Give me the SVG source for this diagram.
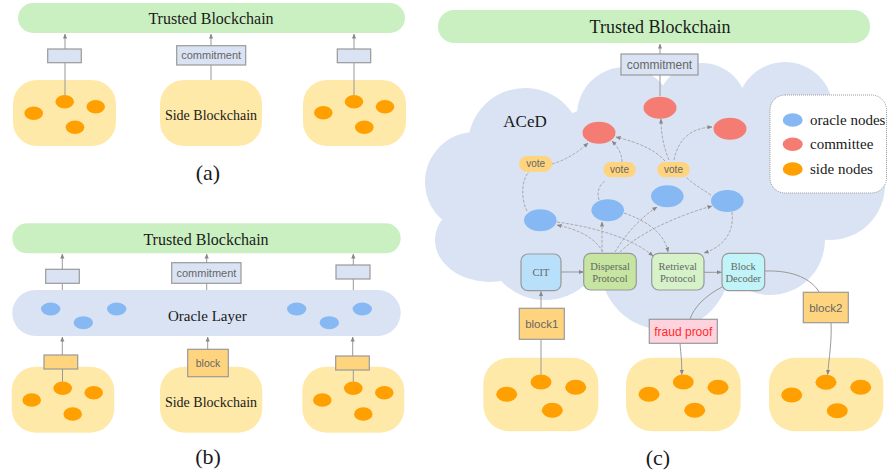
<svg xmlns="http://www.w3.org/2000/svg" width="888" height="476" viewBox="0 0 888 476">
<defs>
<marker id="ah" viewBox="0 0 6 6" refX="5.5" refY="3" markerWidth="5" markerHeight="5" orient="auto" markerUnits="userSpaceOnUse">
<path d="M0,0.5 L6,3 L0,5.5 z" fill="#888"/>
</marker>
<style>
.bar{fill:#caf0c2}
.blob{fill:#ffe9a8}
.on{fill:#ff9f00}
.bn{fill:#86b8f4}
.rn{fill:#f57c73}
.lay{fill:#dae3f3}
.cm{fill:#dae3f3;stroke:#999;stroke-width:1.2}
.bk{fill:#ffd47f;stroke:#999;stroke-width:1.2}
.vote{fill:#ffd47f}
.serif{font-family:"Liberation Serif","Times New Roman",serif;fill:#1a1a1a}
.sans{font-family:"Liberation Sans",Arial,sans-serif;fill:#666}
.pt{font-family:"Liberation Serif","Times New Roman",serif;fill:#666;font-size:10.5px;text-anchor:middle}
.ln{fill:none;stroke:#999;stroke-width:1}
.arr{fill:none;stroke:#999;stroke-width:1;marker-end:url(#ah)}
.da{fill:none;stroke:#aaa;stroke-width:1;stroke-dasharray:3 1.5;marker-end:url(#ah)}
.dl{fill:none;stroke:#aaa;stroke-width:1;stroke-dasharray:3 1.5}
.cloud{fill:#dae3f3}
</style>
</defs>
<rect width="888" height="476" fill="#ffffff"/>

<!-- ===== Panel (a) ===== -->
<g id="a-trusted">
<rect class="bar" x="18" y="3" width="387" height="30" rx="15"/>
<text class="serif" x="211" y="24" font-size="16" text-anchor="middle">Trusted Blockchain</text>
</g>
<g id="a-side1">
<rect class="blob" x="13" y="80" width="103" height="66" rx="24"/>
<ellipse class="on" cx="33.7" cy="113.3" rx="9.3" ry="6.7"/>
<ellipse class="on" cx="64.7" cy="101.7" rx="9.3" ry="6.7"/>
<ellipse class="on" cx="95.7" cy="106.7" rx="9.3" ry="6.7"/>
<ellipse class="on" cx="75" cy="127.3" rx="9.3" ry="6.7"/>
</g>
<g id="a-side2">
<rect class="blob" x="160" y="80" width="102" height="66" rx="24"/>
<text class="serif" x="211" y="120.3" font-size="14" text-anchor="middle">Side Blockchain</text>
</g>
<g id="a-side3">
<rect class="blob" x="303" y="80" width="103" height="66" rx="24"/>
<ellipse class="on" cx="323.3" cy="112.7" rx="9.3" ry="6.7"/>
<ellipse class="on" cx="354" cy="101.7" rx="9.3" ry="6.7"/>
<ellipse class="on" cx="385" cy="106.7" rx="9.3" ry="6.7"/>
<ellipse class="on" cx="364.3" cy="127.3" rx="9.3" ry="6.7"/>
</g>
<g id="a-connectors">
<path class="ln" d="M65,95 V63"/>
<path class="arr" d="M65,49 V34"/>
<path class="ln" d="M211,80 V65"/>
<path class="arr" d="M211,46 V34"/>
<path class="ln" d="M354,95 V63"/>
<path class="arr" d="M354,49 V34"/>
</g>
<g id="a-box1"><rect class="cm" x="47.7" y="49" width="33.6" height="13.7"/></g>
<g id="a-commit">
<rect class="cm" x="176.7" y="45.7" width="69" height="19.3"/>
<text class="sans" x="211.2" y="59.4" font-size="11" text-anchor="middle">commitment</text>
</g>
<g id="a-box3"><rect class="cm" x="337.3" y="49" width="33.4" height="13.7"/></g>
<text class="serif" x="208" y="179.5" font-size="22" text-anchor="middle">(a)</text>

<!-- ===== Panel (b) ===== -->
<g id="b-trusted">
<rect class="bar" x="12.3" y="223.3" width="388.4" height="30" rx="15"/>
<text class="serif" x="206" y="244.5" font-size="16" text-anchor="middle">Trusted Blockchain</text>
</g>
<g id="b-oracle">
<rect class="lay" x="12.3" y="290" width="388.4" height="46" rx="23"/>
<ellipse class="bn" cx="50.7" cy="309" rx="9.7" ry="6.5"/>
<ellipse class="bn" cx="83.3" cy="322.7" rx="9.7" ry="6.5"/>
<ellipse class="bn" cx="116.7" cy="309" rx="9.7" ry="6.5"/>
<ellipse class="bn" cx="296.7" cy="309" rx="9.7" ry="6.5"/>
<ellipse class="bn" cx="329.3" cy="322.7" rx="9.7" ry="6.5"/>
<ellipse class="bn" cx="362.3" cy="309" rx="9.7" ry="6.5"/>
<text class="serif" x="207.3" y="320.5" font-size="15" text-anchor="middle">Oracle Layer</text>
</g>
<g id="b-side1">
<rect class="blob" x="11.7" y="366.7" width="102.6" height="66" rx="24"/>
<ellipse class="on" cx="31.7" cy="400" rx="9.3" ry="6.7"/>
<ellipse class="on" cx="62.7" cy="388.3" rx="9.3" ry="6.7"/>
<ellipse class="on" cx="93.7" cy="392.7" rx="9.3" ry="6.7"/>
<ellipse class="on" cx="72.7" cy="414" rx="9.3" ry="6.7"/>
</g>
<g id="b-side2">
<rect class="blob" x="160" y="366.7" width="102.3" height="66" rx="24"/>
<text class="serif" x="211" y="406.5" font-size="14" text-anchor="middle">Side Blockchain</text>
</g>
<g id="b-side3">
<rect class="blob" x="302.3" y="366.7" width="102" height="66" rx="24"/>
<ellipse class="on" cx="322.3" cy="400" rx="9.3" ry="6.7"/>
<ellipse class="on" cx="353.3" cy="388.3" rx="9.3" ry="6.7"/>
<ellipse class="on" cx="384.3" cy="392.7" rx="9.3" ry="6.7"/>
<ellipse class="on" cx="363.3" cy="414" rx="9.3" ry="6.7"/>
</g>
<g id="b-connectors">
<path class="ln" d="M62.3,290 V283"/>
<path class="arr" d="M62.3,269 V254"/>
<path class="ln" d="M206.7,290 V283"/>
<path class="arr" d="M206.7,262.7 V254"/>
<path class="ln" d="M353.3,290 V279"/>
<path class="arr" d="M353.3,265 V254"/>
<path class="ln" d="M62.5,381.6 V369"/>
<path class="arr" d="M62.3,355 V337"/>
<path class="arr" d="M207.7,349.3 V337"/>
<path class="ln" d="M353.3,381.6 V370"/>
<path class="arr" d="M352.7,356 V337"/>
</g>
<g id="b-box1"><rect class="cm" x="45.7" y="269.3" width="33.6" height="14"/></g>
<g id="b-commit">
<rect class="cm" x="171.7" y="262.7" width="69.3" height="20.6"/>
<text class="sans" x="206.4" y="276.8" font-size="11" text-anchor="middle">commitment</text>
</g>
<g id="b-box3"><rect class="cm" x="336" y="265" width="34" height="14"/></g>
<g id="b-blk1"><rect class="bk" x="44" y="355" width="33.7" height="14"/></g>
<g id="b-block">
<rect class="bk" x="187.7" y="349.3" width="40.6" height="27.4"/>
<text class="sans" x="208" y="366.6" font-size="10.5" text-anchor="middle">block</text>
</g>
<g id="b-blk3"><rect class="bk" x="335.7" y="356" width="33.6" height="14"/></g>
<text class="serif" x="208" y="464" font-size="22" text-anchor="middle">(b)</text>

<!-- ===== Panel (c) ===== -->
<g id="c-cloud">
<circle class="cloud" cx="625" cy="115" r="48"/>
<circle class="cloud" cx="702" cy="108" r="45"/>
<circle class="cloud" cx="785" cy="110" r="48"/>
<circle class="cloud" cx="830" cy="185" r="55"/>
<circle class="cloud" cx="770" cy="240" r="55"/>
<circle class="cloud" cx="665" cy="265" r="65"/>
<circle class="cloud" cx="545" cy="240" r="60"/>
<circle class="cloud" cx="475" cy="182" r="50"/>
<ellipse class="cloud" cx="490" cy="240" rx="55" ry="42"/>
<circle class="cloud" cx="525" cy="145" r="57"/>
<ellipse class="cloud" cx="660" cy="190" rx="170" ry="90"/>
<text class="serif" x="525" y="126.6" font-size="17" text-anchor="middle">ACeD</text>
</g>
<g id="c-trusted">
<rect class="bar" x="438" y="10" width="432" height="33" rx="16"/>
<text class="serif" x="660" y="33" font-size="18" text-anchor="middle">Trusted Blockchain</text>
</g>
<g id="c-legend">
<rect x="770" y="95" width="116.5" height="98" rx="15" fill="#ffffff" stroke="#999" stroke-width="1" stroke-dasharray="1 1"/>
<ellipse class="bn" cx="792.7" cy="120" rx="10" ry="6.7"/>
<ellipse class="rn" cx="792.7" cy="144.3" rx="10" ry="6.7"/>
<ellipse class="on" cx="792.7" cy="169" rx="10" ry="6.7"/>
<text class="serif" x="810" y="125" font-size="15">oracle nodes</text>
<text class="serif" x="810" y="149.3" font-size="15">committee</text>
<text class="serif" x="810" y="174" font-size="15">side nodes</text>
</g>
<g id="c-side1">
<rect class="blob" x="483.3" y="357.7" width="115" height="73.6" rx="26"/>
<ellipse class="on" cx="506.7" cy="394.3" rx="10.5" ry="7.5"/>
<ellipse class="on" cx="541" cy="382" rx="10.5" ry="7.5"/>
<ellipse class="on" cx="575.7" cy="387.3" rx="10.5" ry="7.5"/>
<ellipse class="on" cx="552.3" cy="410.3" rx="10.5" ry="7.5"/>
</g>
<g id="c-side2">
<rect class="blob" x="626" y="357.7" width="114.7" height="73.6" rx="26"/>
<ellipse class="on" cx="649" cy="394.3" rx="10.5" ry="7.5"/>
<ellipse class="on" cx="683.3" cy="382" rx="10.5" ry="7.5"/>
<ellipse class="on" cx="718" cy="387.3" rx="10.5" ry="7.5"/>
<ellipse class="on" cx="694.7" cy="410.3" rx="10.5" ry="7.5"/>
</g>
<g id="c-side3">
<rect class="blob" x="769" y="357.7" width="114.3" height="73.6" rx="26"/>
<ellipse class="on" cx="791.7" cy="395" rx="10.5" ry="7.5"/>
<ellipse class="on" cx="826" cy="382.3" rx="10.5" ry="7.5"/>
<ellipse class="on" cx="860.7" cy="387.3" rx="10.5" ry="7.5"/>
<ellipse class="on" cx="837.3" cy="410.7" rx="10.5" ry="7.5"/>
</g>
<g id="c-connectors">
<path class="ln" d="M660,96 V75" stroke-width="1.5"/>
<path class="arr" d="M660,54 V44"/>
<path class="da" d="M552,164 Q572,158 588,143"/>
<path class="dl" d="M527,211 C521,200 521,180 529,172"/>
<path class="dl" d="M599,200 C597,193 598,186 605,181"/>
<path class="da" d="M622,162 C622,154 618,147 612,141"/>
<path class="dl" d="M711,195 C700,188 692,183 686,177"/>
<path class="da" d="M665,161 C655,150 640,143 616,137"/>
<path class="da" d="M669,160 C664,148 661,135 661,119"/>
<path class="da" d="M674,160 C678,140 690,128 712,127"/>
<path class="da" d="M603,252 C595,238 580,230 557,225"/>
<path class="da" d="M602,252 L602,222"/>
<path class="da" d="M615,252 C625,235 640,218 657,207"/>
<path class="da" d="M620,252 C640,232 680,215 712,206"/>
<path class="da" d="M557,222 C600,228 635,240 653,256"/>
<path class="da" d="M624,213 C650,222 665,235 668,252"/>
<path class="da" d="M732,212 C735,235 720,248 704,253"/>
<path class="arr" d="M561,272 H583.5"/>
<path class="arr" d="M704,272.3 H721.5"/>
<path class="arr" d="M541,308 V291.5"/>
<path class="ln" d="M541,374.5 V339.5"/>
<path class="ln" d="M722,287 C705,296 694,307 690,319.3"/>
<path class="arr" d="M680,343.3 C681,355 682,362 681.7,374.5"/>
<path class="ln" d="M764.7,271 C795,270 812,280 819.3,292.3"/>
<path class="arr" d="M831,322.7 C832,340 829,358 827.7,374.5"/>
</g>
<g id="c-commit">
<rect class="cm" x="621" y="54" width="77" height="21"/>
<text class="sans" x="659.5" y="68.5" font-size="12" text-anchor="middle">commitment</text>
</g>
<g id="c-committee">
<ellipse class="rn" cx="660" cy="107.7" rx="16.5" ry="11"/>
<ellipse class="rn" cx="599" cy="132.7" rx="16.5" ry="11"/>
<ellipse class="rn" cx="730" cy="128.7" rx="16.5" ry="11"/>
</g>
<g id="c-oracles">
<ellipse class="bn" cx="540.3" cy="220.3" rx="16.3" ry="11"/>
<ellipse class="bn" cx="607.7" cy="210.3" rx="16.3" ry="11"/>
<ellipse class="bn" cx="667.3" cy="196.3" rx="16.3" ry="11"/>
<ellipse class="bn" cx="727.3" cy="201" rx="16.3" ry="11"/>
</g>
<g id="c-vote1">
<rect class="vote" x="519.3" y="156" width="32.7" height="15.7" rx="7.5"/>
<text class="sans" x="535.6" y="167.4" font-size="10" text-anchor="middle">vote</text>
</g>
<g id="c-vote2">
<rect class="vote" x="603.3" y="162" width="32.4" height="15.3" rx="7.5"/>
<text class="sans" x="619.5" y="173.3" font-size="10" text-anchor="middle">vote</text>
</g>
<g id="c-vote3">
<rect class="vote" x="657.3" y="162" width="32.4" height="15.3" rx="7.5"/>
<text class="sans" x="673.5" y="173.3" font-size="10" text-anchor="middle">vote</text>
</g>
<g id="c-cit">
<rect x="521" y="254" width="40" height="36.7" rx="7" fill="#b8e0fa" stroke="#999" stroke-width="1.2"/>
<text class="pt" x="541" y="276">CIT</text>
</g>
<g id="c-dispersal">
<rect x="583.7" y="253.3" width="52.6" height="36.7" rx="7" fill="#c5e5a0" stroke="#999" stroke-width="1.2"/>
<text class="pt" x="610" y="270.4">Dispersal</text>
<text class="pt" x="610" y="282.4">Protocol</text>
</g>
<g id="c-retrieval">
<rect x="651.7" y="253.3" width="52.3" height="36.7" rx="7" fill="#d5f2c8" stroke="#999" stroke-width="1.2"/>
<text class="pt" x="677.8" y="270.4">Retrieval</text>
<text class="pt" x="677.8" y="282.4">Protocol</text>
</g>
<g id="c-decoder">
<rect x="722" y="253.3" width="42.7" height="37.4" rx="7" fill="#c0f4f8" stroke="#999" stroke-width="1.2"/>
<text class="pt" x="743.3" y="270.4">Block</text>
<text class="pt" x="743.3" y="282.4">Decoder</text>
</g>
<g id="c-block1">
<rect class="bk" x="519.3" y="308.3" width="45" height="31"/>
<text class="sans" x="541.8" y="328" font-size="11.5" text-anchor="middle">block1</text>
</g>
<g id="c-fraud">
<rect x="649.3" y="319.3" width="68" height="24" fill="#ffd3de" stroke="#999" stroke-width="1.2"/>
<text x="683.3" y="335.5" font-family="Liberation Sans, Arial, sans-serif" font-size="12" fill="#ff2a2a" text-anchor="middle">fraud proof</text>
</g>
<g id="c-block2">
<rect class="bk" x="803.3" y="292.3" width="45" height="30.4"/>
<text class="sans" x="825.8" y="311.6" font-size="11.5" text-anchor="middle">block2</text>
</g>
<text class="serif" x="658" y="465" font-size="22" text-anchor="middle">(c)</text>
</svg>
